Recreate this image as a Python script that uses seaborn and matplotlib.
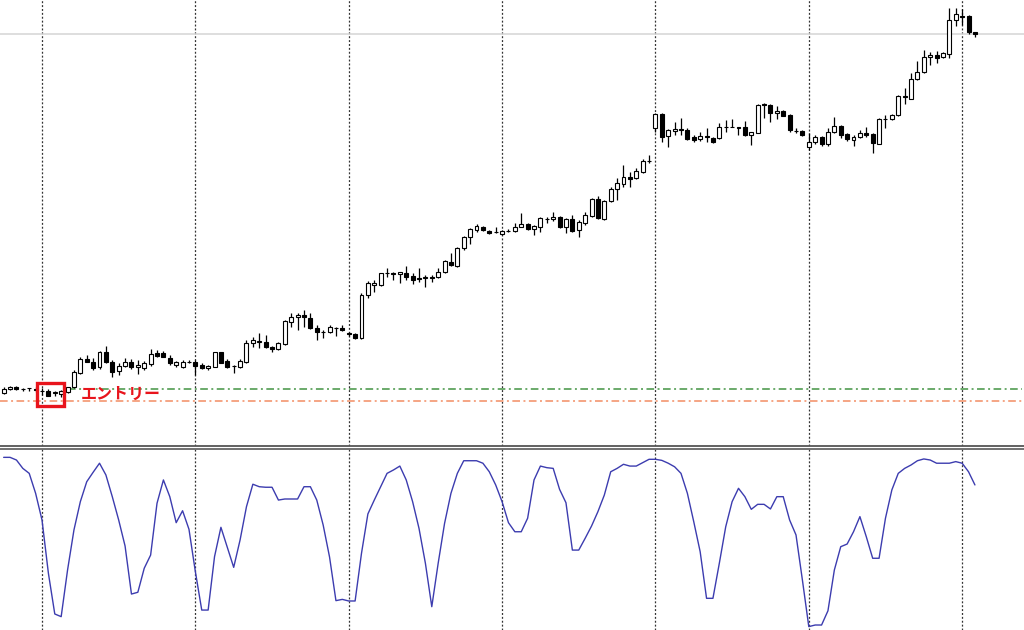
import numpy as np
import matplotlib
matplotlib.use("Agg")
import matplotlib.pyplot as plt
from matplotlib.patches import Rectangle
import seaborn as sns

# H1 bars (price in chart points), one value per bar
opens = [57, 61, 63, 61.5, 62, 61.5, 59.5, 59, 57.5, 55.7,
         58.3, 63, 76.7, 91, 88.3, 82.7, 98.3, 88.3, 79.3, 84,
         88.3, 82.7, 81.7, 85.7, 97.3, 97.3, 92.3, 84.7, 83.3, 88.3,
         88.3, 85, 81.7, 83.3, 97.7, 89, 84, 83.3, 88.3, 106.7,
         108, 108.3, 103.3, 101, 105.7, 128.3, 132.7, 135, 131.7, 122.3,
         118, 118.3, 121.7, 121.7, 116.7, 116, 111.7, 155, 165, 165,
         176.7, 176.7, 176, 177.3, 174, 171.7, 171.7, 172.7, 172.7, 177.7,
         188.3, 184.3, 201.7, 212.7, 220, 223.3, 219.3, 218.3, 215.7, 219.3,
         219, 223.3, 226, 221, 222.7, 231, 230.7, 232.7, 223.3, 230.7,
         220, 227.3, 234, 251, 230.7, 249.3, 260.7, 265.7, 272.7, 272.3,
         278.3, 289, 321.7, 336, 314, 319.3, 320.7, 320, 313.3, 310.7,
         314.3, 311.7, 311.7, 323.3, 323.3, 322.7, 323.3, 315, 317.3, 345.7,
         345, 336.7, 339, 335, 319.3, 319, 302.7, 307.7, 312.7, 306,
         317.7, 324.3, 315.7, 310, 312.7, 317.3, 315.7, 306, 331, 331,
         335, 354, 351, 371, 377.7, 392.7, 395, 392.7, 396, 430,
         434.3, 434.3, 417.7]
highs = [63, 64, 64, 62, 62.3, 63, 62, 60.7, 59, 60,
         63, 80, 92.7, 95, 92, 99.3, 104, 90, 86.7, 92.3,
         90.7, 90, 89.3, 100.7, 100, 99.3, 95, 89, 90, 90,
         90, 86.7, 85, 98.3, 98.3, 90.7, 85, 90.7, 110, 112.7,
         116.7, 115, 104.3, 108.3, 130, 136.7, 136.7, 140, 136.7, 125,
         120, 125, 123.3, 125, 118, 117.3, 157.3, 169, 170, 177.3,
         181.7, 178.3, 178.3, 184, 176.7, 181.7, 175, 175, 181.7, 190,
         196.7, 203.3, 214, 221.7, 226, 224, 220, 223.3, 220, 220.7,
         226.7, 236.7, 227, 225, 233.3, 233.3, 238.3, 234, 231.7, 235,
         230, 238.3, 251.7, 254, 250, 262.7, 271.7, 285, 278.3, 281.7,
         290.7, 295, 337, 337, 320.7, 328.3, 331.7, 321.7, 315, 318.3,
         322.3, 313.3, 326.7, 330, 330.7, 323, 329.3, 318.3, 346, 346.7,
         346, 344, 340, 335.7, 321.7, 320, 316.7, 315, 314, 321.7,
         332.7, 325, 317.3, 315, 320, 323.3, 317.3, 331.7, 335, 336,
         355, 361.7, 377.3, 389, 400, 398.3, 399.3, 398, 441.7, 441.7,
         440.7, 435, 417.7]
lows = [56, 60, 60.5, 59, 59, 58, 55, 54, 54.3, 53.3,
        57, 62, 76, 88, 80, 80.7, 87, 73.3, 75, 83.3,
        80.7, 76, 80, 84, 92.7, 92.7, 85, 83.3, 82, 86.7,
        75, 80.7, 80, 82.7, 86.7, 81.7, 77.3, 82.3, 87.3, 103.3,
        101.7, 101.7, 97.7, 100, 105, 123.3, 120, 123.3, 120.7, 110,
        111.7, 116.7, 114, 119.3, 114, 111, 110.7, 151.7, 158.3, 164,
        173.3, 170, 167.3, 170, 166, 168.3, 163.3, 168.3, 171.7, 176.7,
        184, 183.3, 200, 206, 218.3, 219, 216, 216.7, 215, 218,
        218.3, 222.7, 220, 215, 218.3, 226.7, 229.3, 221.7, 217.3, 218.3,
        212.7, 225, 233.3, 230.7, 230, 248.3, 250, 263.3, 262.7, 270.7,
        277.3, 286.7, 318, 308.3, 303.3, 315, 315, 310, 307.7, 309.3,
        308.3, 306.7, 310.7, 318.3, 322.7, 315, 314, 305, 316.7, 331.7,
        327.7, 330.7, 334, 318.3, 317.3, 314.3, 300, 306, 304.3, 304.3,
        316.7, 311.7, 309.3, 304.3, 311.7, 312.7, 297.3, 305.7, 321.7, 330,
        334, 346, 350.7, 370, 377.3, 385, 387.3, 392, 391.7, 424,
        425, 415.7, 413.3]
closes = [61, 63, 61, 61.3, 61.8, 60.5, 59.3, 54.3, 57.7, 59,
          62.7, 78, 91, 88.3, 82.3, 98.3, 87.7, 77.7, 84.3, 88.3,
          82.7, 85.3, 86.7, 96, 94, 93.3, 86.7, 88, 87.7, 88,
          84.3, 81.7, 84, 97.7, 87.3, 83.3, 84.2, 89, 107.3, 110,
          109.3, 103.3, 101, 106.7, 129, 132.7, 135, 132.7, 122.3, 117.7,
          118.3, 122.7, 121.7, 120, 116, 111.7, 155, 166.7, 166.7, 176.7,
          176.9, 176.5, 177.7, 173.3, 170, 171.5, 173.3, 172.5, 178.3, 189,
          185, 201.7, 212.7, 220.7, 224.3, 220, 216.7, 218.5, 219.3, 219.4,
          222.7, 226, 221, 224, 231.7, 231.2, 233.3, 223.3, 230.7, 219.3,
          227.7, 235, 251, 231.7, 249.3, 261, 266.7, 273.3, 271.3, 279.3,
          289.3, 289.2, 336, 313.3, 320, 320.7, 320.5, 311, 310, 314.3,
          312.7, 308.3, 323.3, 323.5, 323.2, 322.5, 315, 318, 345, 345.5,
          336.7, 339, 334.3, 320, 319.4, 315, 307.7, 312.7, 305.7, 317.7,
          324.3, 315, 310.7, 313.3, 317.3, 315, 306.7, 331, 331.2, 335,
          354.3, 352.7, 371, 378.3, 393.3, 395, 391.7, 396.7, 430, 435.7,
          433.3, 417.7, 416.3]

# stochastic %K per bar
stoch = [97.0, 97.0, 95.5, 90.8, 88.0, 76.8, 61.8, 31.9, 9.0, 7.5,
         33.7, 56.2, 72.1, 83.3, 88.6, 93.7, 87.1, 74.9, 61.8, 47.2,
         20.2, 21.2, 34.7, 42.1, 71.2, 84.3, 74.9, 60.3, 67.0, 56.6,
         32.8, 11.2, 11.2, 41.2, 57.7, 46.5, 35.2, 50.6, 69.3, 81.9,
         80.5, 80.2, 80.2, 73.0, 73.6, 73.6, 73.6, 80.5, 80.5, 73.0,
         59.0, 41.0, 16.5, 17.2, 16.3, 16.3, 43.1, 65.2, 73.0, 80.5,
         88.0, 89.9, 92.1, 84.3, 72.1, 57.1, 37.5, 13.1, 37.5, 59.9,
         76.8, 88.0, 95.1, 95.1, 95.1, 93.7, 88.9, 81.5, 72.1, 60.3,
         55.2, 55.2, 62.8, 84.3, 92.1, 91.2, 90.8, 79.0, 71.5, 44.9,
         44.9, 51.5, 58.4, 66.5, 75.8, 88.9, 90.8, 93.1, 92.1, 92.1,
         94.0, 95.9, 95.9, 95.3, 93.7, 91.7, 88.0, 76.8, 60.8, 44.0,
         17.8, 17.8, 37.5, 58.0, 72.1, 79.6, 74.9, 67.8, 70.6, 70.6,
         68.0, 74.9, 74.9, 61.8, 53.4, 28.1, 1.9, 2.8, 2.8, 10.8,
         33.7, 46.8, 48.3, 55.2, 63.7, 52.4, 40.3, 40.3, 62.8, 78.7,
         88.0, 90.8, 92.7, 95.1, 96.1, 95.5, 93.7, 93.7, 93.7, 94.6,
         93.7, 88.9, 81.5]

tp_level = 60.7      # green line
sl_level = 49.3      # orange line
entry_bars = (5, 9)  # boxed candles
entry_label = "エントリー"
bars_per_day = 24
first_separator = 6

sns.set_style("white")
plt.rcParams['font.family'] = ['Noto Sans CJK JP', 'DejaVu Sans']
plt.rcParams['lines.scale_dashes'] = False

o = np.array(opens)
h = np.array(highs)
l = np.array(lows)
c = np.array(closes)
idx = np.arange(len(o))
up = c >= o

fig = plt.figure(figsize=(10.24, 6.3), dpi=100)
ax = fig.add_axes([0, 184 / 630, 1, 446 / 630])
ax2 = fig.add_axes([0, 0, 1, 181.5 / 630])

xlim = (-0.573, 159.68)

# ---- price panel ----
ax.vlines(idx, l, h, color="black", lw=0.9, zorder=2)
ax.bar(idx[up], (c - o)[up], bottom=o[up], width=0.62,
       color="white", edgecolor="black", linewidth=0.8, zorder=3)
ax.bar(idx[~up], (o - c)[~up], bottom=c[~up], width=0.62,
       color="black", edgecolor="black", linewidth=0.8, zorder=3)

ax.axhline(c[-1], color="#d4d4d4", lw=1.1, zorder=1)
ax.hlines(tp_level, entry_bars[1] + 1, xlim[1] - 0.3, color="#6aaa6a",
          lw=1.4, linestyles=[(0, (5.5, 2.5, 1.4, 2.5))], zorder=1)
ax.hlines(sl_level, xlim[0], xlim[1] - 0.3, color="#f5a584",
          lw=1.4, linestyles=[(0, (5.5, 2.5, 1.4, 2.5))], zorder=1)

ax.add_patch(Rectangle((entry_bars[0] + 0.14, 44.5), entry_bars[1] - entry_bars[0] + 0.38, 23,
                       fill=False, edgecolor="#e8141c", lw=2.4, zorder=5))
ax.text(12.1, 56.5, entry_label, color="#e8141c", fontsize=11.5, fontweight="bold",
        ha="left", va="center", zorder=6)

ax.set_xlim(*xlim)
ax.set_ylim(4, 450)

# ---- stochastic panel ----
sns.lineplot(x=idx, y=stoch, ax=ax2, color="#3c3caf", lw=1.0)
ax2.set_xlim(*xlim)
ax2.set_ylim(0, 101.97)

for a in (ax, ax2):
    for sep in range(first_separator, len(o), bars_per_day):
        a.axvline(sep, color="#333333", lw=0.9, linestyle=(0, (1.4, 1.4)), zorder=0)
    a.set_xticks([])
    a.set_yticks([])
    a.set_xlabel("")
    a.set_ylabel("")
    for s in a.spines.values():
        s.set_visible(False)

ax.spines["bottom"].set_visible(True)
ax.spines["bottom"].set_color("#555555")
ax.spines["bottom"].set_linewidth(1.3)
ax2.spines["top"].set_visible(True)
ax2.spines["top"].set_color("#666666")
ax2.spines["top"].set_linewidth(1.3)

fig.savefig("out.png", dpi=100)
